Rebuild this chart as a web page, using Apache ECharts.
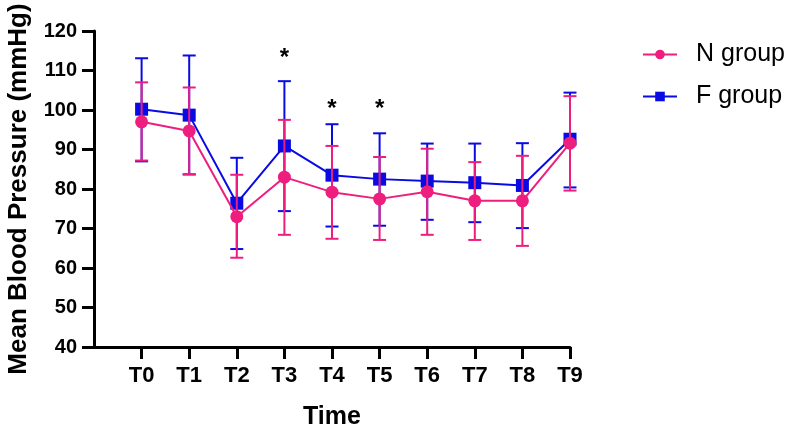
<!DOCTYPE html>
<html>
<head>
<meta charset="utf-8">
<script src="https://cdn.jsdelivr.net/npm/echarts@6/dist/echarts.min.js"></script>
<style>html,body{margin:0;padding:0;background:#fff}#c{width:787px;height:435px}</style>
</head>
<body>
<div id="c"></div>
<script>
var categories = ['T0','T1','T2','T3','T4','T5','T6','T7','T8','T9'];
var yTicks = [40, 120, 10]; // min, max, interval
var nMean  = [97.0, 94.7, 73.0, 83.0, 79.2, 77.5, 79.3, 77.0, 77.0, 91.6];
var nUpper = [107.0, 105.7, 83.6, 97.5, 90.9, 88.1, 90.2, 86.8, 88.4, 103.5];
var nLower = [87.2, 83.7, 62.6, 68.4, 67.4, 67.1, 68.4, 67.1, 65.6, 79.6];
var fMean  = [100.2, 98.7, 76.4, 90.9, 83.5, 82.5, 82.0, 81.6, 80.9, 92.6];
var fUpper = [113.1, 113.8, 87.9, 107.3, 96.4, 94.1, 91.5, 91.5, 91.6, 104.4];
var fLower = [87.0, 83.7, 64.8, 74.4, 70.5, 70.7, 72.2, 71.6, 70.1, 80.4];
var starCats = ['T3','T4','T5'];
var starValues = [114.3, 101.4, 101.4];

var PINK = '#EE1E7E', BLUE = '#0A0AE2';
var FONT = '"Liberation Sans", Arial, sans-serif';

function pairs(vals){ return categories.map(function(c,i){ return [c, vals[i]]; }); }
function errData(lo, hi){ return categories.map(function(c,i){ return [c, lo[i], hi[i]]; }); }
function errRender(color){
  return function(params, api){
    var lo = api.coord([api.value(0), api.value(1)]);
    var hi = api.coord([api.value(0), api.value(2)]);
    var hw = 6.5;
    var st = {stroke: color, lineWidth: 2};
    return {type:'group', children:[
      {type:'line', shape:{x1:lo[0], y1:lo[1], x2:hi[0], y2:hi[1]}, style:st},
      {type:'line', shape:{x1:lo[0]-hw, y1:lo[1], x2:lo[0]+hw, y2:lo[1]}, style:st},
      {type:'line', shape:{x1:hi[0]-hw, y1:hi[1], x2:hi[0]+hw, y2:hi[1]}, style:st}
    ]};
  };
}

var chart = echarts.init(document.getElementById('c'));
chart.setOption({
  animation: false,
  backgroundColor: '#fff',
  grid: {left: 94, right: 217, top: 31, bottom: 88, containLabel: false, outerBoundsMode: 'none'},
  legend: {
    orient: 'vertical', left: 637, top: 37, itemWidth: 34, itemHeight: 12, itemGap: 17,
    textStyle: {fontFamily: FONT, fontSize: 25, color: '#000', padding: [0,0,0,14]},
    data: ['N group', 'F group']
  },
  xAxis: {
    type: 'category', boundaryGap: false,
    data: [''].concat(categories),
    name: 'Time', nameLocation: 'middle', nameGap: 58,
    nameTextStyle: {fontFamily: FONT, fontSize: 25, fontWeight: 'bold', color: '#000'},
    axisLine: {lineStyle: {color: '#000', width: 3}},
    axisTick: {length: 12, lineStyle: {color: '#000', width: 3}, interval: function(i){ return i > 0; }},
    axisLabel: {interval: 0, margin: 18, fontFamily: FONT, fontSize: 22, fontWeight: 'bold', color: '#000'},
    splitLine: {show: false}
  },
  yAxis: {
    type: 'value', min: yTicks[0], max: yTicks[1], interval: yTicks[2],
    name: 'Mean Blood Pressure (mmHg)', nameLocation: 'middle', nameGap: 62,
    nameTextStyle: {fontFamily: FONT, fontSize: 26, fontWeight: 'bold', color: '#000'},
    axisLine: {show: true, lineStyle: {color: '#000', width: 3}},
    axisTick: {show: true, length: 12, lineStyle: {color: '#000', width: 3}},
    axisLabel: {margin: 17, fontFamily: FONT, fontSize: 20, fontWeight: 'bold', color: '#000'},
    splitLine: {show: false}
  },
  series: [
    {type: 'custom', name: 'F err', renderItem: errRender(BLUE), data: errData(fLower, fUpper), z: 2, silent: true},
    {type: 'line', name: 'F group', data: pairs(fMean), symbol: 'rect', symbolSize: 13,
      itemStyle: {color: BLUE}, lineStyle: {color: BLUE, width: 2}, z: 3},
    {type: 'custom', name: 'N err', renderItem: errRender(PINK), data: errData(nLower, nUpper), z: 4, silent: true},
    {type: 'line', name: 'N group', data: pairs(nMean), symbol: 'circle', symbolSize: 13,
      itemStyle: {color: PINK}, lineStyle: {color: PINK, width: 2}, z: 5},
    {type: 'custom', name: 'stars', z: 6, silent: true,
      data: starCats.map(function(c,i){ return [c, starValues[i]]; }),
      renderItem: function(params, api){
        var p = api.coord([api.value(0), api.value(1)]);
        return {type: 'text', x: p[0], y: p[1] + 5, style: {text: '*', fontFamily: FONT, fontSize: 24, fontWeight: 'bold',
          fill: '#000', align: 'center', verticalAlign: 'middle'}};
      }}
  ]
});
</script>
</body>
</html>
